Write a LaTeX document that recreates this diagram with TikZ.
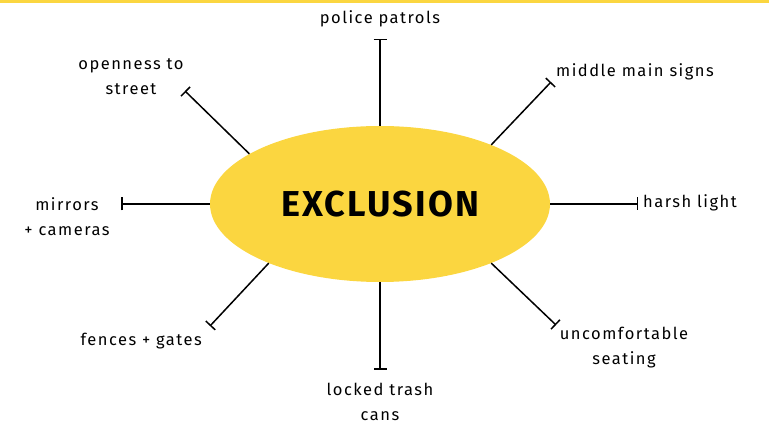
\documentclass[tikz,border=0pt]{standalone}
\usepackage{fontspec}
\setmainfont{Fira Sans}
\newfontfamily\tagfont[LetterSpace=9]{Fira Sans}
\newfontfamily\hubfont[LetterSpace=6]{Fira Sans}
\usetikzlibrary{arrows.meta,positioning,shapes.geometric}
\definecolor{sunyellow}{RGB}{251,214,64}

\begin{document}
\begin{tikzpicture}[
    x=1pt, y=1pt,
    hub/.style={ellipse, fill=sunyellow, inner sep=0pt, minimum width=340pt, minimum height=156pt,
        font=\hubfont\fontsize{36}{40}\selectfont\bfseries},
    tag/.style={align=center, inner sep=0pt, font=\tagfont\fontsize{16.5}{25}\selectfont},
    spoke/.style={line width=1.5pt, -{Bar[width=13pt,line width=1.5pt]}}
]
\useasboundingbox (0,0) rectangle (769,425);
\fill[sunyellow] (0,422) rectangle (769,425);

\node[hub] (exclusion) at (380,221) {EXCLUSION};

\coordinate (patrols-end) at (380,386);
\coordinate (signs-end) at (551,343);
\coordinate (light-end) at (638,221);
\coordinate (seating-end) at (556,100);
\coordinate (trash-end) at (380,55);
\coordinate (fences-end) at (210,99);
\coordinate (mirrors-end) at (121,221);
\coordinate (street-end) at (185,334);

\node[tag] (patrols) at (380,406) {police patrols};
\node[tag, anchor=west] (signs) at (556,353) {middle main signs};
\node[tag, anchor=west] (light) at (643,222) {harsh light};
\node[tag] (seating) at (624,77) {uncomfortable\\seating};
\node[tag] (trash) at (380,23) {locked trash\\cans};
\node[tag, anchor=east] (fences) at (202,84) {fences + gates};
\node[tag] (mirrors) at (67,208) {mirrors\\+ cameras};
\node[tag] (street) at (131,348) {openness to\\street};

\draw[spoke] (exclusion.90) -- (patrols-end);
\draw[spoke] (exclusion.28.9) -- (signs-end);
\draw[spoke] (exclusion.0) -- (light-end);
\draw[spoke] (exclusion.332.4) -- (seating-end);
\draw[spoke] (exclusion.270) -- (trash-end);
\draw[spoke] (exclusion.208.9) -- (fences-end);
\draw[spoke] (exclusion.180) -- (mirrors-end);
\draw[spoke] (exclusion.159.4) -- (street-end);

\end{tikzpicture}
\end{document}
